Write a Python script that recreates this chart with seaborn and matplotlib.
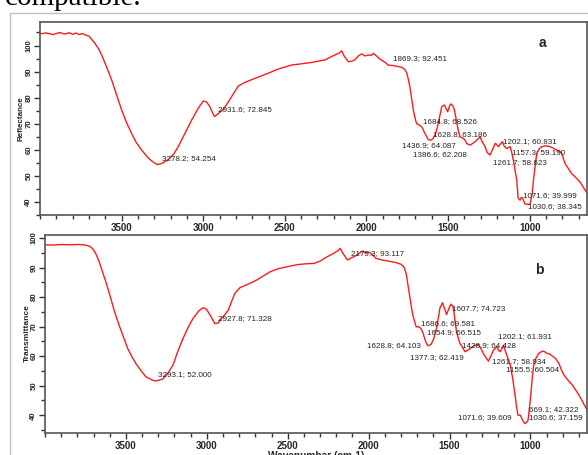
import pandas as pd
import seaborn as sns
import matplotlib.pyplot as plt
from matplotlib.patches import Rectangle
from matplotlib.ticker import MultipleLocator

# spectrum a (reflectance)
wn_a = [4000, 3960, 3920, 3880, 3850, 3820, 3800, 3780, 3760, 3740,
        3720, 3700, 3685, 3665, 3640, 3622, 3590, 3561, 3530, 3500,
        3470, 3439, 3410, 3377, 3350, 3327, 3300, 3279, 3250, 3214,
        3180, 3153, 3110, 3071, 3030, 3000, 2980, 2959, 2940, 2931,
        2915, 2895, 2877, 2850, 2826, 2785, 2740, 2703, 2650, 2601,
        2540, 2460, 2400, 2336, 2254, 2193, 2165, 2152, 2135, 2111,
        2090, 2071, 2050, 2029, 2010, 1988, 1970, 1958, 1935, 1917,
        1880, 1869, 1846, 1810, 1784, 1765, 1754, 1745, 1734, 1713,
        1700, 1692, 1684, 1662, 1642, 1621, 1605, 1591, 1575, 1560,
        1539, 1523, 1512, 1502, 1490, 1482, 1470, 1462, 1446, 1436,
        1426, 1410, 1395, 1386, 1365, 1335, 1304, 1290, 1273, 1261,
        1243, 1225, 1211, 1202, 1191, 1180, 1167, 1157, 1141, 1120,
        1110, 1100, 1079, 1071, 1059, 1050, 1042, 1030, 1018, 998,
        985, 977, 957, 940, 926, 905, 885, 860, 835, 815,
        804, 784, 760, 743, 720, 692, 670, 650]
refl_a = [104.5, 104.8, 104.2, 105.0, 104.4, 104.9, 104.3, 104.8, 104.2, 104.6,
          104.0, 103.6, 102.5, 101.0, 98.6, 96.4, 91.5, 86.8, 81.0, 75.3,
          70.5, 66.3, 62.8, 59.9, 57.8, 56.3, 55.0, 54.3, 54.9, 56.2,
          58.5, 61.2, 66.5, 71.4, 76.0, 78.7, 78.4, 76.5, 73.8, 72.8,
          73.5, 74.6, 75.5, 78.0, 80.4, 84.5, 86.0, 86.9, 88.2, 89.4,
          91.0, 92.5, 93.0, 93.5, 94.5, 96.4, 97.2, 98.0, 95.8, 93.8,
          94.0, 94.5, 96.0, 96.8, 96.0, 96.4, 96.2, 97.0, 95.8, 94.8,
          93.3, 92.5, 92.4, 92.0, 91.6, 90.8, 89.6, 87.5, 84.2, 75.3,
          71.5, 70.0, 69.8, 68.9, 66.3, 63.9, 63.7, 64.4, 66.5, 70.2,
          76.5, 77.2, 75.8, 74.6, 77.0, 77.6, 76.8, 75.5, 70.2, 67.0,
          65.0, 64.5, 63.7, 62.4, 61.8, 63.1, 65.0, 63.0, 61.2, 59.0,
          58.0, 60.5, 62.5, 62.0, 61.2, 62.2, 63.1, 61.5, 60.5, 61.2,
          59.0, 56.0, 48.3, 41.5, 40.7, 41.8, 41.3, 39.3, 39.1, 39.1,
          43.0, 48.3, 58.6, 60.5, 61.2, 61.5, 61.4, 60.8, 59.9, 59.3,
          58.6, 54.8, 52.5, 50.9, 49.5, 47.7, 45.5, 43.5]

# spectrum b (transmittance)
wn_b = [4000, 3950, 3900, 3850, 3800, 3760, 3735, 3718, 3700, 3687,
        3665, 3645, 3620, 3593, 3570, 3542, 3515, 3489, 3460, 3438,
        3405, 3376, 3340, 3318, 3293, 3272, 3240, 3209, 3180, 3147,
        3115, 3085, 3050, 3023, 3005, 2992, 2970, 2950, 2930, 2909,
        2890, 2867, 2845, 2826, 2795, 2740, 2691, 2650, 2608, 2560,
        2500, 2440, 2380, 2338, 2300, 2255, 2220, 2193, 2176, 2163,
        2151, 2135, 2127, 2110, 2089, 2060, 2038, 2020, 1996, 1975,
        1955, 1920, 1882, 1840, 1799, 1780, 1768, 1758, 1747, 1737,
        1727, 1715, 1706, 1690, 1675, 1665, 1654, 1645, 1633, 1613,
        1597, 1581, 1570, 1560, 1544, 1530, 1519, 1505, 1492, 1480,
        1473, 1465, 1457, 1436, 1420, 1405, 1390, 1374, 1350, 1322,
        1305, 1291, 1275, 1260, 1245, 1229, 1208, 1197, 1187, 1177,
        1167, 1157, 1146, 1125, 1110, 1098, 1085, 1077, 1063, 1050,
        1036, 1025, 1015, 1000, 990, 980, 965, 949, 930, 918,
        900, 885, 866, 845, 824, 810, 793, 770, 741, 720,
        700, 680, 658, 650]
trans_b = [97.7, 97.6, 97.8, 97.7, 97.8, 97.7, 97.4, 97.0, 96.0, 94.8,
           92.0, 88.6, 84.5, 79.5, 75.0, 70.5, 66.5, 62.6, 59.5, 57.5,
           55.0, 53.0, 52.0, 51.6, 51.9, 52.3, 54.3, 57.0, 61.5, 66.0,
           69.8, 72.8, 75.3, 76.4, 76.0, 75.0, 73.0, 71.0, 71.2, 72.8,
           74.0, 75.6, 78.8, 81.3, 83.2, 84.5, 85.8, 87.2, 88.6, 89.6,
           90.3, 91.0, 91.3, 91.4, 92.2, 93.7, 94.7, 95.6, 96.5, 95.2,
           94.2, 92.8, 92.6, 93.2, 93.7, 94.8, 95.6, 95.0, 95.2, 94.2,
           93.1, 92.6, 92.2, 91.8, 91.1, 90.0, 88.0, 84.5, 80.7, 77.0,
           73.9, 71.5, 69.9, 70.0, 69.2, 68.0, 66.0, 64.5, 63.5, 64.1,
           66.0, 69.4, 72.8, 76.2, 78.1, 76.0, 74.1, 76.0, 77.6, 77.0,
           75.0, 71.5, 68.2, 64.3, 63.0, 61.5, 61.9, 62.6, 63.5, 64.0,
           62.5, 60.9, 59.5, 58.3, 60.0, 62.0, 63.2, 62.0, 61.5, 62.5,
           63.7, 62.0, 60.3, 57.0, 52.5, 47.9, 42.5, 40.0, 40.0, 38.5,
           37.2, 37.5, 38.3, 45.7, 52.0, 57.0, 59.5, 60.9, 61.6, 61.7,
           61.0, 60.8, 60.1, 59.2, 57.5, 55.5, 53.6, 52.0, 50.2, 48.5,
           46.8, 44.8, 42.5, 42.0]

# peak labels as printed by the instrument software, with where they sit
labels_a = ["3278.2; 54.254", "2931.6; 72.845", "1869.3; 92.451", "1684.8; 68.526",
            "1628.8; 63.186", "1436.9; 64.087", "1386.6; 62.208", "1202.1; 60.831",
            "1157.3; 59.190", "1261.7; 58.623", "1071.6; 39.999", "1030.6; 38.345"]
lab_x_a = [3255, 2908, 1836, 1652, 1591, 1784, 1713, 1166, 1111, 1222, 1039, 1008]
lab_y_a = [56.7, 75.3, 94.9, 71.0, 65.7, 61.6, 58.0, 63.3, 59.0, 55.2, 42.6, 38.1]

labels_b = ["3293.1; 52.000", "2927.8; 71.328", "2179.3; 93.117", "1607.7; 74.723",
            "1686.6; 69.581", "1654.9; 66.515", "1628.8; 64.103", "1377.3; 62.419",
            "1428.9; 64.428", "1202.1; 61.931", "1261.7; 58.934", "1155.5; 60.504",
            "1071.6; 39.609", "669.1; 42.322", "1030.6; 37.159"]
lab_x_b = [3299, 2929, 2110, 1488, 1675, 1637, 2013, 1747, 1422, 1198, 1239, 1152,
           1447, 1011, 1011]
lab_y_b = [53.8, 72.8, 94.6, 76.2, 71.1, 68.0, 63.5, 59.6, 63.7, 66.5, 58.3, 55.5,
           39.2, 42.0, 39.2]

x_ticks = [3500, 3000, 2500, 2000, 1500, 1000]
y_ticks = [40, 50, 60, 70, 80, 90, 100]

sns.set_style("ticks")
plt.rcParams["font.family"] = ["Liberation Sans", "DejaVu Sans"]

fig = plt.figure(figsize=(5.88, 4.55), dpi=100)

# bit of the page text above the figure
fig.text(0.008, 0.989, "compatible.", family="Liberation Serif", fontsize=21,
         va="baseline", ha="left", color="black")
fig.add_artist(Rectangle((0.017, -0.1), 1.2, 1.0714, transform=fig.transFigure,
                         fill=False, edgecolor="#c0c0c0", lw=1))

ax1 = fig.add_axes([0.068, 0.5275, 0.930, 0.424])
ax2 = fig.add_axes([0.0765, 0.0484, 0.922, 0.435])

df_a = pd.DataFrame({"Wavenumber": wn_a, "Reflectance": refl_a})
df_b = pd.DataFrame({"Wavenumber": wn_b, "Transmittance": trans_b})

sns.lineplot(data=df_a, x="Wavenumber", y="Reflectance", sort=False,
             estimator=None, color="#ff1a1a", lw=1, ax=ax1)
sns.lineplot(data=df_b, x="Wavenumber", y="Transmittance", sort=False,
             estimator=None, color="#ff1a1a", lw=1, ax=ax2)

ax1.set_ylim(35, 109)
ax2.set_ylim(34, 101)

for ax in (ax1, ax2):
    ax.set_xlim(4000, 650)
    ax.set_xticks(x_ticks)
    ax.xaxis.set_minor_locator(MultipleLocator(100))
    ax.set_yticks(y_ticks)
    ax.yaxis.set_minor_locator(MultipleLocator(5))
    ax.tick_params(which="major", length=4, width=1, pad=2, color="#333333")
    ax.tick_params(which="minor", length=3, width=1, color="#333333")
    ax.tick_params(axis="x", labelsize=7)
    ax.tick_params(axis="y", labelsize=5.6, pad=1.5)
    for lab in ax.get_yticklabels():
        lab.set_rotation(90)
        lab.set_va("center")
        lab.set_fontweight("bold")
    for lab in ax.get_xticklabels():
        lab.set_fontweight("bold")
    for sp in ax.spines.values():
        sp.set_visible(True)
        sp.set_linewidth(1.2)
        sp.set_color("#555555")

ax1.set_xlabel("")
ax1.set_ylabel("Reflectance", fontsize=5.8, fontweight="bold")
ax1.yaxis.set_label_coords(-0.028, 0.5)
ax2.set_xlabel("Wavenumber (cm-1)", fontsize=7.3, fontweight="bold", labelpad=0)
ax2.set_ylabel("Transmittance", fontsize=6, fontweight="bold")
ax2.yaxis.set_label_coords(-0.026, 0.505)

for t, x, y in zip(labels_a, lab_x_a, lab_y_a):
    ax1.text(x, y, t, fontsize=5.8, va="center", ha="left", color="#222222")
for t, x, y in zip(labels_b, lab_x_b, lab_y_b):
    ax2.text(x, y, t, fontsize=5.8, va="center", ha="left", color="#222222")

ax1.text(947, 101, "a", fontsize=10, fontweight="bold", va="center", ha="left")
ax2.text(969, 89.2, "b", fontsize=10, fontweight="bold", va="center", ha="left")

fig.savefig("out.png", dpi=100)
